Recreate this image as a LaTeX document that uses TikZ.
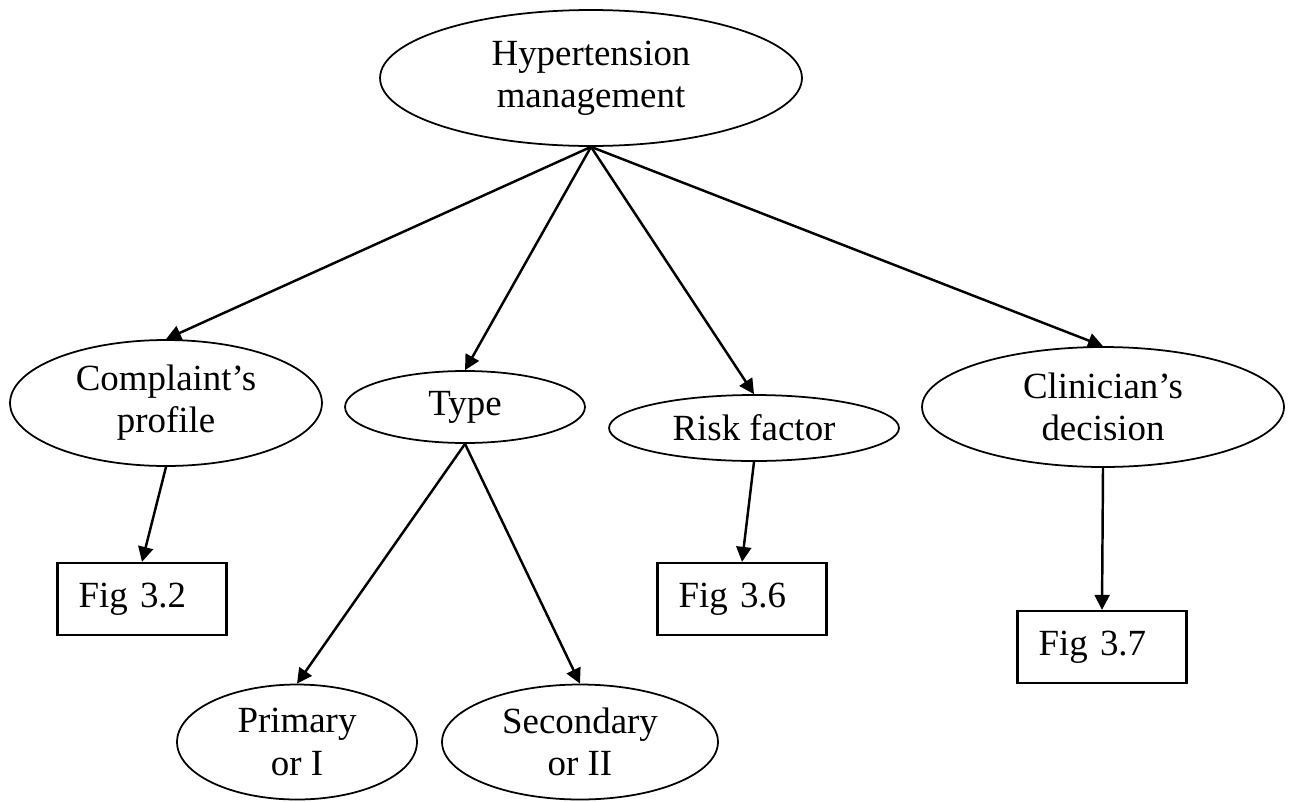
\documentclass[tikz,border=0pt]{standalone}
\usepackage{fontspec}
\setmainfont{Liberation Serif}
\usepackage{tikz}
\usetikzlibrary{shapes,shapes.geometric,arrows.meta,positioning,calc}

\begin{document}
\begin{tikzpicture}[
    x=0.02cm, y=-0.02cm,
    topic/.style={ellipse, draw, line width=1pt, inner sep=0pt, align=center, font=\fontsize{21}{24}\selectfont},
    figbox/.style={rectangle, draw, line width=1.3pt, minimum height=1.44cm, text width=2.54cm, inner xsep=0.42cm, align=left, font=\fontsize{21}{24}\selectfont},
    arrow/.style={-{Triangle[length=0.3cm, width=0.3cm]}, line width=1.4pt}
]
    \useasboundingbox (0,0) rectangle (1290,801);

    % Root
    \node[topic, minimum width=8.44cm, minimum height=2.72cm] (htm) at (591,78) {Hypertension\\management};

    % Level 1
    \node[topic, minimum width=6.24cm, minimum height=2.52cm] (profile) at (166,403) {Complaint's\\profile};
    \node[topic, minimum width=4.8cm, minimum height=1.44cm] (type) at (465,407) {Type};
    \node[topic, minimum width=5.8cm, minimum height=1.32cm] (risk) at (754,428) {Risk factor};
    \node[topic, minimum width=7.24cm, minimum height=2.4cm] (decision) at (1103,407) {Clinician's\\decision};

    % Level 2
    \node[figbox] (fig32) at (142,599) {Fig 3.2};
    \node[figbox] (fig36) at (742,599) {Fig 3.6};
    \node[figbox] (fig37) at (1102,647) {Fig 3.7};
    \node[topic, minimum width=4.8cm, minimum height=2.3cm] (primary) at (297,742) {Primary\\or I};
    \node[topic, minimum width=5.52cm, minimum height=2.3cm] (secondary) at (580,742) {Secondary\\or II};

    % Arrows - from root
    \draw[arrow] (htm.south) -- (profile.north);
    \draw[arrow] (htm.south) -- (type.north);
    \draw[arrow] (htm.south) -- (risk.north);
    \draw[arrow] (htm.south) -- (decision.north);

    % Arrows - to figures and types
    \draw[arrow] (profile.south) -- (fig32.north);
    \draw[arrow] (type.south) -- (primary.north);
    \draw[arrow] (type.south) -- (secondary.north);
    \draw[arrow] (risk.south) -- (fig36.north);
    \draw[arrow] (decision.south) -- (fig37.north);
\end{tikzpicture}
\end{document}
